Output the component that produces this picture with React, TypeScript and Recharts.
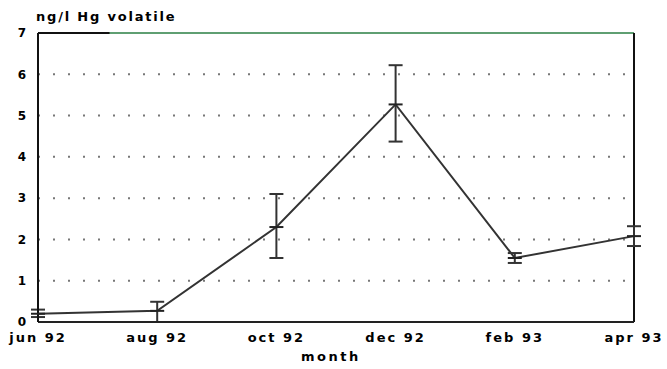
import React from 'react';
import { LineChart, Line, XAxis, YAxis, CartesianGrid, ErrorBar, ReferenceLine } from 'recharts';

const months = ['jun 92', 'aug 92', 'oct 92', 'dec 92', 'feb 93', 'apr 93'];
const hgValues = [0.2, 0.27, 2.3, 5.27, 1.55, 2.08];
const hgErrors: [number, number][] = [
  [0.08, 0.1],
  [0.27, 0.22],
  [0.75, 0.8],
  [0.9, 0.95],
  [0.12, 0.12],
  [0.24, 0.24],
];
const yTicks = [0, 1, 2, 3, 4, 5, 6, 7];
const xTicks = [0, 1, 2, 3, 4, 5];

const data = months.map((m, i) => ({ idx: i, month: m, value: hgValues[i], err: hgErrors[i] }));

const FONT = '"DejaVu Sans", sans-serif';

const MeanTick = (props: any) => {
  const { cx, cy } = props;
  if (cx == null || cy == null) return null;
  return <line x1={cx - 7} x2={cx + 7} y1={cy} y2={cy} stroke="#222" strokeWidth={2} />;
};

export default function App() {
  return (
    <div style={{ position: 'absolute', left: 0, top: 0, width: 667, height: 369, background: '#fff' }}>
      <LineChart width={667} height={369} data={data} margin={{ top: 33, right: 33, bottom: 17, left: 8 }}>
        <CartesianGrid horizontal vertical={false} stroke="#777" strokeDasharray="2 13" strokeWidth={2} />
        <XAxis
          dataKey="idx"
          type="number"
          domain={[0, 5]}
          ticks={xTicks}
          tickFormatter={(v: number) => months[v]}
          axisLine={{ stroke: '#222', strokeWidth: 2 }}
          tickLine={false}
          tickMargin={5}
          height={30}
          tick={{ fill: '#000', fontFamily: FONT, fontWeight: 700, fontSize: 13, letterSpacing: 2 }}
          interval={0}
        />
        <YAxis
          type="number"
          domain={[0, 7]}
          ticks={yTicks}
          width={30}
          axisLine={{ stroke: '#111', strokeWidth: 2 }}
          tickLine={false}
          tickMargin={6}
          tick={{ fill: '#000', fontFamily: FONT, fontWeight: 700, fontSize: 12 }}
        />
        <ReferenceLine y={7} stroke="#5f9f72" strokeWidth={2} />
        <ReferenceLine segment={[{ x: 0, y: 7 }, { x: 0.6, y: 7 }]} stroke="#111" strokeWidth={2} />
        <ReferenceLine x={5} stroke="#111" strokeWidth={2} />
        <Line
          type="linear"
          dataKey="value"
          stroke="#333"
          strokeWidth={2}
          dot={<MeanTick />}
          activeDot={false}
          isAnimationActive={false}
        >
          <ErrorBar dataKey="err" width={7} stroke="#333" strokeWidth={2} direction="y" />
        </Line>
      </LineChart>
      <div
        style={{
          position: 'absolute',
          left: 36,
          top: 9,
          fontFamily: FONT,
          fontWeight: 700,
          fontSize: 13,
          letterSpacing: 1.8,
          color: '#000',
        }}
      >
        ng/l Hg volatile
      </div>
      <div
        style={{
          position: 'absolute',
          left: 301,
          top: 349,
          fontFamily: FONT,
          fontWeight: 700,
          fontSize: 13,
          letterSpacing: 2.5,
          color: '#000',
        }}
      >
        month
      </div>
    </div>
  );
}
